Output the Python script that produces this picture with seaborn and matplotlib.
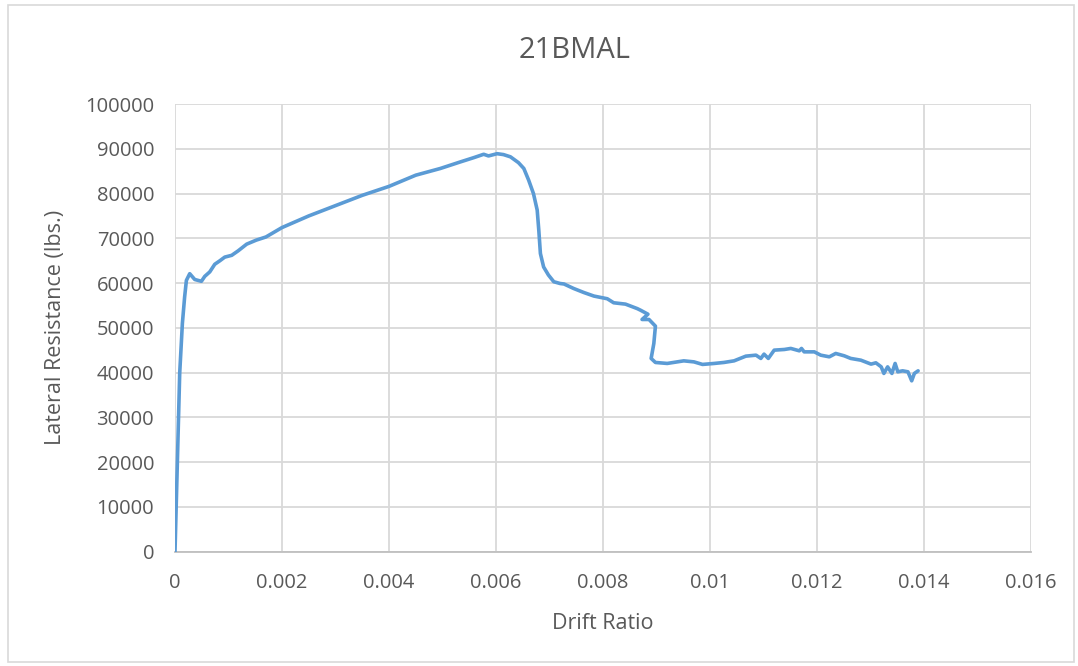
import matplotlib
matplotlib.use("Agg")
import matplotlib.pyplot as plt
import seaborn as sns
import pandas as pd
from matplotlib.patches import Rectangle

# drift ratio vs lateral resistance
drift = [0, 0.000088, 0.000138, 0.00018, 0.000213, 0.000275, 0.000369, 0.000494,
         0.000556, 0.00065, 0.000743, 0.00084, 0.00093, 0.00106, 0.00118, 0.00134,
         0.00152, 0.0017, 0.0018, 0.002, 0.0025, 0.003, 0.0035, 0.004, 0.0045,
         0.00496, 0.00533, 0.00558, 0.00577, 0.00586, 0.00602, 0.00614, 0.00627,
         0.00642, 0.00652, 0.00661, 0.0067, 0.00677, 0.0068, 0.00683, 0.00689,
         0.00698, 0.00708, 0.0072, 0.00727, 0.00745, 0.00764, 0.00783, 0.00808,
         0.0082, 0.00842, 0.00864, 0.0087, 0.00884, 0.00873, 0.00886, 0.00898,
         0.00895, 0.0089, 0.00898, 0.0092, 0.00951, 0.0097, 0.00986, 0.01008,
         0.01026, 0.01045, 0.01067, 0.01086, 0.01095, 0.01101, 0.01109, 0.0112,
         0.01139, 0.01151, 0.01167, 0.01171, 0.01176, 0.01195, 0.01207, 0.01223,
         0.01235, 0.01251, 0.01263, 0.01282, 0.01301, 0.0131, 0.0132, 0.01325,
         0.01332, 0.0134, 0.01346, 0.01351, 0.0136, 0.0137, 0.01377, 0.01382,
         0.01389]
resistance = [0, 39900, 51000, 56900, 60600, 62100, 60800, 60400,
              61500, 62500, 64200, 65000, 65800, 66200, 67200, 68700,
              69600, 70300, 71000, 72400, 75000, 77300, 79600, 81600, 84100,
              85600, 87050, 88000, 88770, 88400, 88900, 88700, 88200,
              86900, 85600, 83000, 80000, 76300, 71800, 66600, 63600,
              61800, 60300, 59900, 59800, 58800, 57900, 57100, 56500,
              55600, 55300, 54300, 53950, 53050, 51870, 51870, 50380,
              46500, 43170, 42270, 42050, 42630, 42400, 41830, 42050,
              42270, 42630, 43680, 43900, 43170, 44130, 43170, 45020,
              45170, 45400, 44870, 45400, 44640, 44640, 43900, 43530,
              44280, 43750, 43170, 42780, 41900, 42190, 41290, 39820,
              41290, 39820, 42050, 40180, 40400, 40180, 38170, 39820,
              40400]

x_ticks = [0, 0.002, 0.004, 0.006, 0.008, 0.01, 0.012, 0.014, 0.016]
x_labels = ["0", "0.002", "0.004", "0.006", "0.008", "0.01", "0.012", "0.014", "0.016"]
y_ticks = list(range(0, 100001, 10000))

df = pd.DataFrame({"drift": drift, "resistance": resistance})

sns.set_style("white")
plt.rcParams['font.family'] = ['Open Sans', 'DejaVu Sans']

text_col = "#595959"
grid_col = "#D9D9D9"

fig = plt.figure(figsize=(10.78, 6.66), dpi=100)
ax = fig.add_axes([175 / 1078, 1 - 551.7 / 666, (1031 - 175) / 1078, (551.7 - 104) / 666])

sns.lineplot(data=df, x="drift", y="resistance", sort=False, estimator=None,
             color="#5B9BD5", linewidth=2.6, ax=ax, zorder=3)

ax.set_xlim(0, 0.016)
ax.set_ylim(0, 100000)
ax.set_xticks(x_ticks)
ax.set_xticklabels(x_labels)
ax.set_yticks(y_ticks)
ax.set_yticklabels([str(v) for v in y_ticks])
ax.grid(True, color=grid_col, linewidth=1.3)
ax.set_axisbelow(True)
for side in ["top", "right", "left"]:
    ax.spines[side].set_visible(False)
ax.spines["bottom"].set_color("#BFBFBF")
ax.spines["bottom"].set_linewidth(1.3)
ax.tick_params(axis="both", length=0, labelsize=14.5, colors=text_col)
ax.tick_params(axis="x", pad=15)
ax.tick_params(axis="y", pad=15)

ax.set_xlabel("Drift Ratio", fontsize=15.5, color=text_col, labelpad=15)
ax.set_ylabel("Lateral Resistance (lbs.)", fontsize=15.5, color=text_col, labelpad=14)

fig.text(575 / 1078, 1 - 51 / 666, "21BMAL", ha="center", va="center",
         fontsize=21, color=text_col)

# light chart border
fig.patches.append(Rectangle((8 / 1078, 4 / 666), 1066 / 1078, 657 / 666,
                             transform=fig.transFigure, fill=False,
                             edgecolor=grid_col, linewidth=1.2))

fig.savefig("out.png", dpi=100)
